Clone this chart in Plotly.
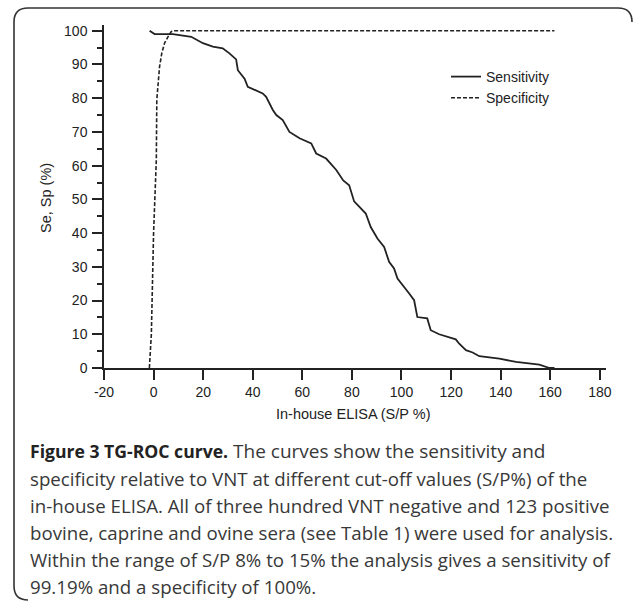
import plotly.graph_objects as go

# ---------------- data ----------------
sens_x = [-1.6, 0.4, 7.8, 15.2, 19.9, 23.9, 27.9, 30.6, 33.3, 34.0, 36.7, 38.0, 44.0, 45.4,
          48.1, 49.5, 52.1, 54.8, 58.9, 63.6, 65.6, 69.6, 73.7, 76.5, 78.9, 80.9, 85.6, 87.6,
          90.3, 93.0, 95.0, 97.0, 98.4, 101.7, 103.1, 105.1, 106.4, 110.4, 111.8, 115.2, 121.9,
          123.3, 126.0, 128.7, 131.4, 139.5, 146.2, 155.6, 159.7, 161.7]
sens_y = [100, 99, 99, 98.2, 96.3, 95.3, 94.8, 93.3, 91.5, 88.3, 85.8, 83.4, 81.4, 80.4,
          76.5, 75.0, 73.5, 70.0, 68.1, 66.6, 63.6, 62.1, 58.7, 55.6, 54.2, 49.4, 45.8, 41.8,
          38.4, 35.9, 31.5, 29.5, 26.5, 23.6, 22.1, 20.1, 15.1, 14.7, 11.2, 10.0, 8.5,
          7.2, 5.3, 4.6, 3.5, 2.8, 1.8, 1.0, 0.0, 0.0]

spec_x = [-1.7, -0.9, 0.0, 0.7, 1.1, 1.3, 1.9, 2.4, 3.3, 4.4, 5.8, 7.1, 8.1, 161.7]
spec_y = [0, 10, 40, 55, 61.6, 79.5, 86.4, 89.3, 93.3, 96.3, 98.2, 99.7, 100, 100]

x_ticks = [-20, 0, 20, 40, 60, 80, 100, 120, 140, 160, 180]
x_tick_labels = ["-20", "0", "20", "40", "60", "80", "100", "120", "140", "160", "180"]
y_ticks = [0, 10, 20, 30, 40, 50, 60, 70, 80, 90, 100]

x_title = "In-house ELISA (S/P %)"
y_title = "Se, Sp (%)"

caption_bold = "Figure 3 TG-ROC curve."
caption_lines = [
    " The curves show the sensitivity and",
    "specificity relative to VNT at different cut-off values (S/P%) of the",
    "in-house ELISA. All of three hundred VNT negative and 123 positive",
    "bovine, caprine and ovine sera (see Table 1) were used for analysis.",
    "Within the range of S/P 8% to 15% the analysis gives a sensitivity of",
    "99.19% and a specificity of 100%.",
]

# ---------------- layout geometry ----------------
W, H = 633, 602
L, R, T, B = 104, 27, 25, 234
PW, PH = W - L - R, H - T - B


def px(xp, yp):
    return (xp - L) / PW, (H - B - yp) / PH


INK = "#222222"
AX_FONT = dict(family="Liberation Sans, Arial, sans-serif", size=14, color=INK)

fig = go.Figure()
fig.add_trace(go.Scatter(x=sens_x, y=sens_y, mode="lines", name="Sensitivity",
                         line=dict(color=INK, width=1.8)))
fig.add_trace(go.Scatter(x=spec_x, y=spec_y, mode="lines", name="Specificity",
                         line=dict(color=INK, width=1.6, dash="4px,2px")))

lx, ly = px(446, 61)
fig.update_layout(
    template="none",
    width=W, height=H,
    margin=dict(l=L, r=R, t=T, b=B, pad=0),
    paper_bgcolor="white", plot_bgcolor="white",
    font=AX_FONT,
    showlegend=True,
    legend=dict(x=lx, y=ly, xanchor="left", yanchor="top", bgcolor="rgba(0,0,0,0)",
                font=AX_FONT, itemwidth=30, tracegroupgap=0),
    xaxis=dict(range=[-20, 182.5], tickvals=x_ticks, ticktext=x_tick_labels, showline=True,
               linecolor=INK, linewidth=1.5, ticks="outside", ticklen=10, tickwidth=1.5,
               tickcolor=INK, showgrid=False, zeroline=False, automargin=False,
               tickfont=AX_FONT),
    yaxis=dict(range=[0, 101.7], tickvals=y_ticks, showline=True, linecolor=INK,
               linewidth=1.5, ticks="outside", ticklen=10, tickwidth=1.5, tickcolor=INK,
               ticklabelstandoff=2,
               minor=dict(dtick=5, ticks="outside", ticklen=5, tickwidth=1.5, tickcolor=INK),
               showgrid=False, zeroline=False, automargin=False, tickfont=AX_FONT),
)

annotations = []
ax, ay = px(353, 414)
annotations.append(dict(text=x_title, x=ax, y=ay, xref="paper", yref="paper",
                        xanchor="center", yanchor="middle", showarrow=False,
                        font=dict(family="Liberation Sans, Arial, sans-serif", size=14.5, color=INK)))
tx, ty = px(46, 198)
annotations.append(dict(text=y_title, x=tx, y=ty, xref="paper", yref="paper", textangle=-90,
                        xanchor="center", yanchor="middle", showarrow=False,
                        font=dict(family="Liberation Sans, Arial, sans-serif", size=14.5, color=INK)))

cap_top, cap_step = 451, 27.0
for i, line in enumerate(caption_lines):
    text = line
    if i == 0:
        text = (f"<b><span style='font-size:17.6px;color:#222'>{caption_bold}</span></b>"
                f"<span style='font-size:19px'>{line}</span>")
    cx, cy = px(28, cap_top + i * cap_step)
    annotations.append(dict(text=text, x=cx, y=cy, xref="paper", yref="paper",
                            xanchor="left", yanchor="middle", showarrow=False,
                            font=dict(family="Open Sans, sans-serif", size=18.7, color="#383838")))
fig.update_layout(annotations=annotations)

# rounded frame around the figure
def P(xp, yp):
    a, b = px(xp, yp)
    return f"{a:.5f},{b:.5f}"

frame = (f"M {P(632, 22)} Q {P(632, 8)} {P(618, 8)} L {P(28, 8)} Q {P(14, 8)} {P(14, 22)} "
         f"L {P(14, 586)} Q {P(14, 600)} {P(28, 600)}")
fig.add_shape(type="path", path=frame, xref="paper", yref="paper",
              line=dict(color="#333333", width=1.6), layer="above")

fig.write_html("out.html", config={"displayModeBar": False},
               post_script="document.body.style.margin='0';document.body.style.padding='0';")
